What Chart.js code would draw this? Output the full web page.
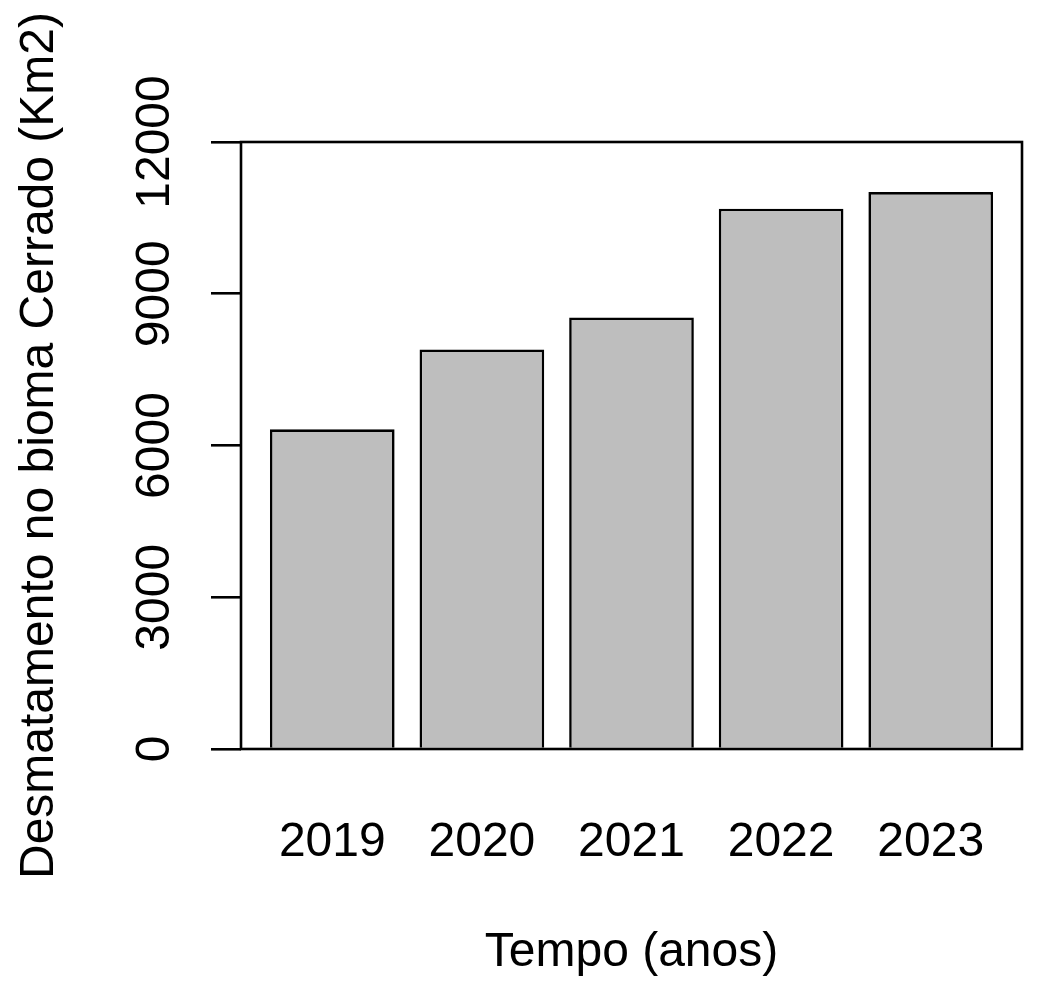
<!DOCTYPE html>
<html>
<head>
<meta charset="utf-8">
<script src="https://cdn.jsdelivr.net/npm/chart.js@4"></script>
<style>
  body { margin: 0; background: #fff; }
</style>
</head>
<body>
<canvas id="myChart" width="1038" height="987"></canvas>
<script>
// dados
const anos = ["2019", "2020", "2021", "2022", "2023"];
const desmatamento = [6320, 7900, 8530, 10680, 11010];
const yTicks = [0, 3000, 6000, 9000, 12000];

// posicoes das barras como no barplot do R (largura 1, espaco 0.2)
const space = 0.2;
const centros = anos.map((a, i) => space + i * (1 + space) + 0.5);
const xMin = space - 0.04 * (anos.length * (1 + space) - space);
const xMax = anos.length * (1 + space) + 0.04 * (anos.length * (1 + space) - space);

const fonte = "'Liberation Sans', Arial, Helvetica, sans-serif";
const ctx = document.getElementById("myChart");

// caixa em volta do grafico + rotulos do eixo y girados
const caixaPlugin = {
  id: "caixa",
  afterDatasetsDraw(chart) {
    const a = chart.chartArea;
    const c = chart.ctx;
    c.save();
    c.strokeStyle = "#000";
    c.lineWidth = 2.6;
    c.strokeRect(a.left, a.top, a.right - a.left, a.bottom - a.top);
    const y = chart.scales.y;
    c.fillStyle = "#000";
    c.font = "48px " + fonte;
    c.textAlign = "center";
    c.textBaseline = "middle";
    y.ticks.forEach((t) => {
      c.save();
      c.translate(a.left - 85.5, y.getPixelForValue(t.value));
      c.rotate(-Math.PI / 2);
      c.fillText(String(t.value), 0, 0);
      c.restore();
    });
    c.restore();
  },
};

new Chart(ctx, {
  type: "bar",
  data: {
    datasets: [
      {
        data: desmatamento.map((v, i) => ({ x: centros[i], y: v })),
        backgroundColor: "#bebebe",
        borderColor: "#000",
        borderWidth: 2.6,
        borderSkipped: "start",
        categoryPercentage: 1,
        barPercentage: 1 / (1 + space),
      },
    ],
  },
  options: {
    responsive: false,
    animation: false,
    layout: { padding: { top: 142, right: 16, left: 0, bottom: 0 } },
    plugins: { legend: { display: false }, tooltip: { enabled: false } },
    scales: {
      x: {
        type: "linear",
        offset: false,
        min: xMin,
        max: xMax,
        afterBuildTicks: (scale) => {
          scale.ticks = centros.map((v) => ({ value: v }));
        },
        afterFit: (scale) => {
          scale.height = 238;
          scale.paddingLeft = 0;
          scale.paddingRight = 0;
        },
        grid: { display: false, offset: false },
        border: { display: false },
        ticks: {
          autoSkip: false,
          maxRotation: 0,
          padding: 57,
          color: "#000",
          font: { family: fonte, size: 48 },
          callback: (value, index) => anos[index],
        },
        title: {
          display: true,
          text: "Tempo (anos)",
          color: "#000",
          font: { family: fonte, size: 48 },
          padding: { top: 0, bottom: 5 },
        },
      },
      y: {
        min: 0,
        max: 12000,
        afterBuildTicks: (scale) => {
          scale.ticks = yTicks.map((v) => ({ value: v }));
        },
        afterFit: (scale) => {
          scale.width = 241;
          scale.paddingTop = 0;
          scale.paddingBottom = 0;
        },
        grid: {
          drawOnChartArea: false,
          drawTicks: true,
          tickLength: 30,
          color: "#000",
          lineWidth: 2.6,
        },
        border: { display: false },
        ticks: { display: false },
        title: {
          display: true,
          text: "Desmatamento no bioma Cerrado (Km2)",
          color: "#000",
          font: { family: fonte, size: 48 },
          padding: { top: 11, bottom: 0 },
        },
      },
    },
  },
  plugins: [caixaPlugin],
});
</script>
</body>
</html>
